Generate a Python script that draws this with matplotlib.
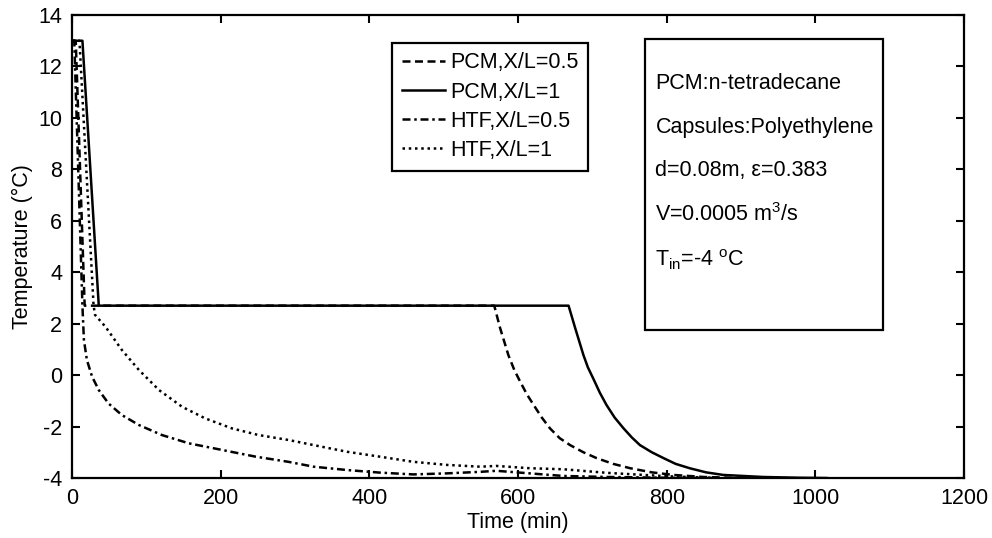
import matplotlib
matplotlib.use("Agg")
import matplotlib.pyplot as plt
from matplotlib.patches import Rectangle

# values (time in min, temperature in degC)
t_pcm_05 = [0, 5, 17, 568, 576, 587, 595, 603, 612, 621, 632, 643, 656, 670, 688, 706, 728,
            751, 780, 809, 850, 900]
T_pcm_05 = [13, 13, 2.7, 2.7, 1.82, 0.78, 0.2, -0.26, -0.75, -1.16, -1.65, -2.07, -2.45, -2.72,
            -3.0, -3.23, -3.45, -3.62, -3.78, -3.88, -3.96, -4.0]

t_pcm_1 = [0, 14, 36, 668, 677, 688, 694, 701, 710, 719, 730, 742, 753, 764, 780, 796, 812,
           831, 853, 876, 930, 980, 1015]
T_pcm_1 = [13, 13, 2.7, 2.7, 1.82, 0.78, 0.3, -0.12, -0.68, -1.16, -1.65, -2.07, -2.42, -2.72,
           -3.0, -3.23, -3.45, -3.62, -3.78, -3.88, -3.96, -3.99, -4.0]

t_htf_05 = [0, 3, 14, 16, 20, 27, 36, 49, 67, 90, 121, 157, 202, 247, 291, 325, 370, 414,
            459, 504, 549, 571, 616, 661, 720, 800, 870]
T_htf_05 = [13, 13, 2.7, 1.37, 0.59, -0.06, -0.58, -1.1, -1.55, -1.94, -2.33, -2.65, -2.91, -3.17,
            -3.37, -3.56, -3.69, -3.79, -3.86, -3.82, -3.76, -3.72, -3.82, -3.92, -3.96, -3.99, -4.0]

t_htf_1 = [0, 10, 29, 31, 45, 67, 90, 117, 148, 179, 215, 251, 291, 325, 370, 414, 459, 504,
           549, 571, 616, 661, 720, 800, 870]
T_htf_1 = [13, 13, 2.7, 2.34, 1.88, 0.98, 0.2, -0.58, -1.23, -1.68, -2.07, -2.33, -2.52, -2.72,
           -2.98, -3.17, -3.37, -3.49, -3.56, -3.53, -3.62, -3.66, -3.8, -3.93, -4.0]

labels = ["PCM,X/L=0.5", "PCM,X/L=1", "HTF,X/L=0.5", "HTF,X/L=1"]
info_lines = ["PCM:n-tetradecane", "Capsules:Polyethylene", "d=0.08m, \u03b5=0.383",
              "V=0.0005 m$^\\mathregular{3}$/s", "T$_\\mathregular{in}$=-4 $^\\mathregular{o}$C"]

plt.rcParams['font.family'] = ['Liberation Sans', 'DejaVu Sans']
plt.rcParams['mathtext.fontset'] = 'custom'
plt.rcParams['mathtext.rm'] = 'Liberation Sans'
plt.rcParams['font.size'] = 15.5
plt.rcParams['axes.unicode_minus'] = False

fig = plt.figure(figsize=(9.92, 5.38), dpi=100)
ax = fig.add_axes([0.0726, 0.1115, 0.8992, 0.8606])

lw = 1.8
ax.plot(t_pcm_05, T_pcm_05, color='k', lw=lw, linestyle=(0, (3.2, 1.8)), label=labels[0])
ax.plot(t_pcm_1, T_pcm_1, color='k', lw=lw, linestyle='-', label=labels[1])
ax.plot(t_htf_05, T_htf_05, color='k', lw=lw, linestyle=(0, (3.2, 1.5, 1, 1.5)), label=labels[2])
ax.plot(t_htf_1, T_htf_1, color='k', lw=lw, linestyle=(0, (1, 1.5)), label=labels[3])

ax.set_xlim(0, 1200)
ax.set_ylim(-4, 14)
ax.set_xticks(range(0, 1201, 200))
ax.set_yticks(range(-4, 15, 2))
ax.tick_params(direction='in', length=6, width=1.5, top=True, right=True, pad=7)
for s in ax.spines.values():
    s.set_linewidth(1.6)

ax.set_xlabel("Time (min)", labelpad=2)
ax.set_ylabel("Temperature (\u00b0C)", labelpad=4)

leg = ax.legend(loc='upper left', bbox_to_anchor=(0.359, 0.94), borderaxespad=0,
                fancybox=False, edgecolor='k', framealpha=1, handlelength=2.0,
                handletextpad=0.25, labelspacing=0.38, borderpad=0.45)
leg.get_frame().set_linewidth(1.6)

# info box
ax.add_patch(Rectangle((0.642, 0.32), 0.267, 0.628, transform=ax.transAxes,
                       fill=False, edgecolor='k', lw=1.6, zorder=5))
ys = [0.853, 0.758, 0.665, 0.568, 0.471]
for txt, y in zip(info_lines, ys):
    ax.text(0.654, y, txt, transform=ax.transAxes, va='center', ha='left')

fig.savefig("out.png", dpi=100)
